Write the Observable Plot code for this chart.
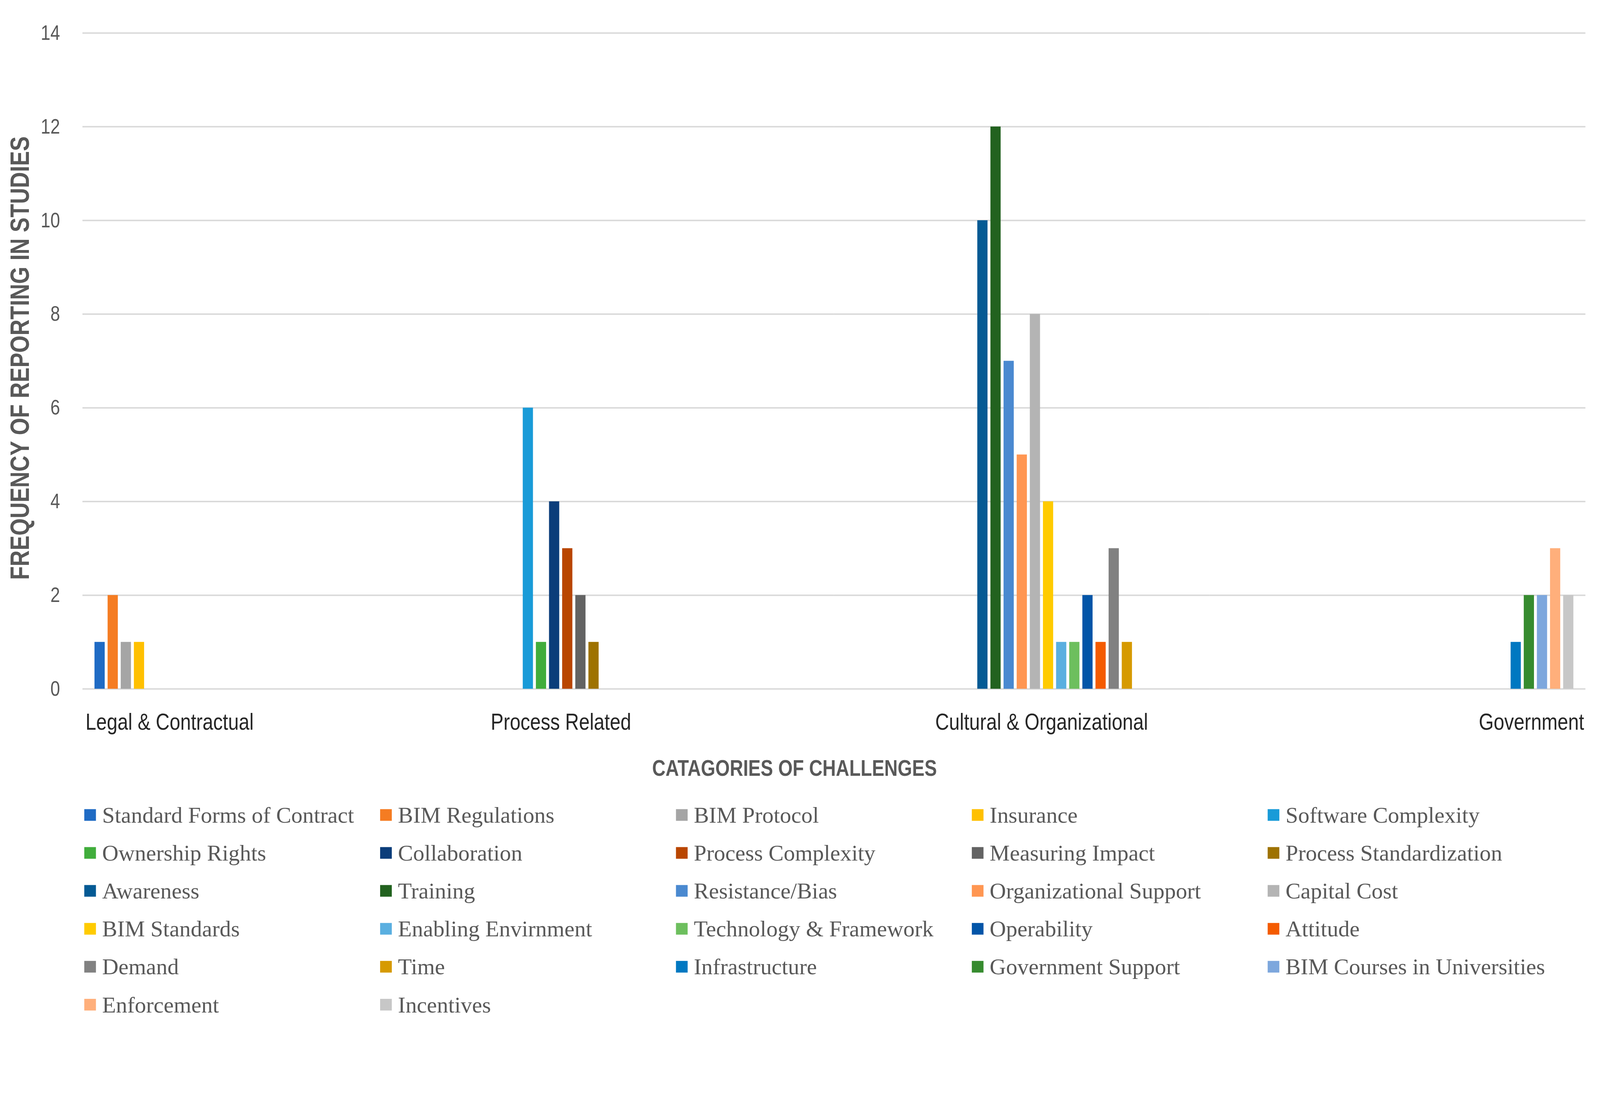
<!DOCTYPE html>
<html>
<head>
<meta charset="utf-8">
<script src="https://cdn.jsdelivr.net/npm/d3@7"></script>
<script src="https://cdn.jsdelivr.net/npm/@observablehq/plot@0.6"></script>
<style>
  html, body { margin: 0; padding: 0; background: #ffffff; overflow: hidden; }
  #root { width: 4386px; height: 2798px; position: relative; overflow: hidden; background: #ffffff; transform-origin: 0 0; }
  #xtitle {
    width: 4386px; height: 84px; line-height: 84px; text-align: center;
    padding-right: 30px; box-sizing: border-box;
  }
  #xtitle span {
    display: inline-block; transform: scaleX(0.82); transform-origin: 50% 50%;
    font-family: 'Liberation Sans', Arial, sans-serif;
    font-weight: bold; font-size: 62px; color: #595959; white-space: nowrap;
  }
  #legend { margin-top: 34px; }
  #legend .lg-swatches {
    display: flex !important; flex-wrap: wrap !important; align-items: center;
    padding-left: 231px; margin: 0 !important; min-height: 0 !important;
    font-family: 'Liberation Serif', 'DejaVu Serif', serif !important;
    font-size: 62px !important; color: #595959 !important;
  }
  #legend .lg-swatch {
    display: inline-flex !important; align-items: center; width: 811px; height: 104px;
    margin: 0 !important; white-space: nowrap;
  }
  #legend .lg-swatch > svg { margin-right: 17px !important; flex-shrink: 0; }
</style>
</head>
<body>
<div id="root">
  <div id="chart"></div>
  <div id="xtitle"><span>CATAGORIES OF CHALLENGES</span></div>
  <div id="legend"></div>
</div>
<script>
// ---- data ----
const categories = ["Legal & Contractual", "Process Related", "Cultural & Organizational", "Government"];

const series = [
  "Standard Forms of Contract", "BIM Regulations", "BIM Protocol", "Insurance",
  "Software Complexity", "Ownership Rights", "Collaboration", "Process Complexity", "Measuring Impact", "Process Standardization",
  "Awareness", "Training", "Resistance/Bias", "Organizational Support", "Capital Cost", "BIM Standards",
  "Enabling Envirnment", "Technology & Framework", "Operability", "Attitude", "Demand", "Time",
  "Infrastructure", "Government Support", "BIM Courses in Universities", "Enforcement", "Incentives"
];

// number of consecutive series belonging to each category
const groupSizes = [4, 6, 12, 5];

const values = [
  1, 2, 1, 1,
  6, 1, 4, 3, 2, 1,
  10, 12, 7, 5, 8, 4, 1, 1, 2, 1, 3, 1,
  1, 2, 2, 3, 2
];

const colors = [
  "#1F6BC4", "#F57C22", "#A5A5A5", "#FFC000",
  "#199BD8", "#41AD3C", "#0B3D7A", "#B94600", "#636363", "#9E7200",
  "#045A94", "#22621F", "#4A89D0", "#FF9652", "#B4B4B4", "#FFCB00",
  "#5AAFE0", "#6DBF5E", "#0255A8", "#F45B00", "#818181", "#D69A00",
  "#0078C1", "#368B2F", "#7DA7DD", "#FFAF7B", "#C7C7C7"
];

const yTicks = [0, 2, 4, 6, 8, 10, 12, 14];

const yTitle = "FREQUENCY OF REPORTING IN STUDIES";

// ---- table ----
const seriesCategory = groupSizes.flatMap((n, i) => Array(n).fill(categories[i]));
const data = series.map((s, i) => ({series: s, category: seriesCategory[i], value: values[i]}));
const groups = categories.map(c => ({category: c, members: data.filter(d => d.category === c)}));

// ---- layout ----
const W = 4386, H = 2064;
const mL = 225, mR = 40, mT = 90, mB = H - 1888;
const pInner = 0.23, pOuter = 0.8;
const facetW = (W - mL - mR) / categories.length;
const step = facetW / (series.length - pInner + 2 * pOuter);
const midShift = [0.5 * step, -0.5 * step];   // label nudges for the middle categories
const labelDy = 112;
const sans = "'Liberation Sans', Arial, sans-serif";

const midMarks = groups.slice(1, -1).map((g, i) => {
  const m = g.members[Math.floor((g.members.length - 1) / 2)];
  return Plot.text([{category: g.category, series: m.series}], {
    fx: "category", x: "series", text: d => d.category,
    frameAnchor: "bottom", dy: labelDy, dx: midShift[i], textAnchor: "middle",
    fontSize: 64, fill: "#262626", fontFamily: sans
  });
});

const chart = Plot.plot({
  width: W,
  height: H,
  marginLeft: mL,
  marginRight: mR,
  marginTop: mT,
  marginBottom: mB,
  style: {fontFamily: sans, background: "#ffffff"},
  fx: {domain: categories, padding: 0, axis: null, label: null},
  x: {domain: series, paddingInner: pInner, paddingOuter: pOuter, axis: null},
  y: {domain: [0, 14], axis: null},
  color: {domain: series, range: colors},
  marks: [
    Plot.gridY(yTicks, {stroke: "#d9d9d9", strokeOpacity: 1, strokeWidth: 4}),
    Plot.barY(data, {fx: "category", x: "series", y: "value", fill: "series"}),
    Plot.axisY(yTicks, {
      tickSize: 0, tickPadding: 62, fontSize: 58, fill: "#595959",
      fontFamily: sans, label: null, tickFormat: d => String(d)
    }),
    // y-axis title (first facet only)
    Plot.text([categories[0]], {
      fx: d => d, text: () => yTitle, frameAnchor: "left", textAnchor: "middle", rotate: -90,
      dx: 54 - mL, dy: -8, fontSize: 74, fontWeight: "bold", fill: "#595959",
      fontFamily: sans, letterSpacing: 2
    }),
    // category labels
    Plot.text([categories[0]], {
      fx: d => d, text: d => d, frameAnchor: "bottom-left", textAnchor: "start",
      dx: 8, dy: labelDy, fontSize: 64, fill: "#262626", fontFamily: sans
    }),
    ...midMarks,
    Plot.text([categories[categories.length - 1]], {
      fx: d => d, text: d => d, frameAnchor: "bottom-right", textAnchor: "end",
      dx: -4, dy: labelDy, fontSize: 64, fill: "#262626", fontFamily: sans
    })
  ]
});

// condensed look (like a narrow sans) for the chart's texts
chart.querySelectorAll("text").forEach(t => {
  const tr = t.getAttribute("transform") || "";
  t.setAttribute("transform", (tr + " scale(0.82,1)").trim());
});

document.getElementById("chart").appendChild(chart);

const legend = chart.legend("color", {
  swatchSize: 32,
  className: "lg"
});
document.getElementById("legend").appendChild(legend);

// fit the 4386x2798 layout into the viewport
const root = document.getElementById("root");
const s = Math.min(window.innerWidth / 4386, window.innerHeight / 2798);
if (s > 0 && Math.abs(s - 1) > 0.005) root.style.transform = `scale(${s})`;
</script>
</body>
</html>
